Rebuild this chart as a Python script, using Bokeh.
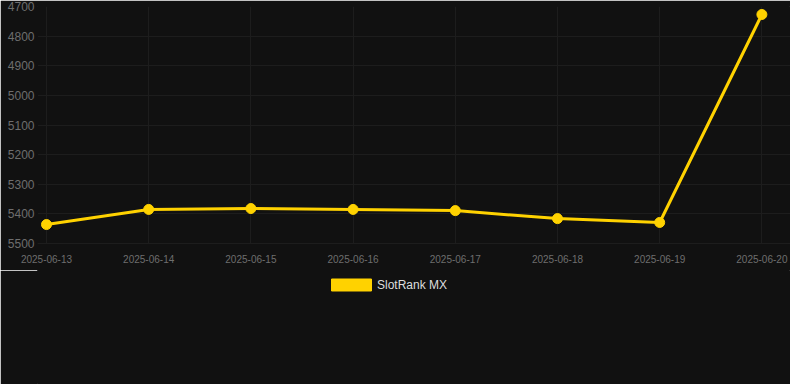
from bokeh.plotting import figure
from bokeh.layouts import column
from bokeh.models import Range1d, FixedTicker, Legend, LegendItem, ColumnDataSource
from bokeh.embed import file_html
from bokeh.resources import INLINE

dates = ["2025-06-13", "2025-06-14", "2025-06-15", "2025-06-16",
         "2025-06-17", "2025-06-18", "2025-06-19", "2025-06-20"]
ranks = [5436, 5385, 5382, 5385, 5389, 5416, 5429, 4727]
y_ticks = [4700, 4800, 4900, 5000, 5100, 5200, 5300, 5400, 5500]
series_name = "SlotRank MX"

LINE = "#FFD200"
BG = "#111111"
GRID = "#1d1d1d"
FONT = "Liberation Sans"
NAN = float("nan")

x = list(range(len(dates)))
src = ColumnDataSource(dict(x=x, y=ranks))

p = figure(width=790, height=270, output_backend="svg", toolbar_location=None,
           x_range=Range1d(-0.088, 7.28), y_range=Range1d(5500, 4700),
           background_fill_color=BG, border_fill_color=BG,
           min_border_left=37, min_border_right=0, min_border_top=6, min_border_bottom=27)
p.outline_line_color = BG
p.outline_line_alpha = 1

p.line("x", "y", source=src, line_color=LINE, line_width=3)
p.scatter("x", "y", source=src, size=10, fill_color=LINE, line_color=LINE)

p.axis.major_tick_line_color = None
p.axis.minor_tick_line_color = None
p.axis.major_label_text_color = "#6e6e6e"
p.axis.major_label_text_font = FONT

p.yaxis.axis_line_color = BG
p.xaxis.axis_line_color = GRID

p.xaxis.ticker = FixedTicker(ticks=x)
p.xaxis.major_label_overrides = {i: d for i, d in zip(x, dates)}
p.xaxis.major_label_text_font_size = "10px"
p.xaxis.major_label_standoff = 5

p.yaxis.ticker = FixedTicker(ticks=y_ticks)
p.yaxis.major_label_text_font_size = "12px"
p.yaxis.major_label_standoff = -3

p.xgrid.grid_line_color = GRID
p.ygrid.grid_line_color = GRID

# legend strip below the chart
lg = figure(width=790, height=114, output_backend="svg", toolbar_location=None,
            x_range=Range1d(0, 1), y_range=Range1d(0, 1),
            x_axis_type=None, y_axis_type=None,
            background_fill_color=BG, border_fill_color=BG,
            min_border_left=37, min_border_right=0, min_border_top=0, min_border_bottom=0)
lg.outline_line_color = BG
lg.outline_line_alpha = 1
lg.grid.visible = False
box = lg.quad(left=[NAN], right=[NAN], top=[NAN], bottom=[NAN],
              fill_color=LINE, line_color=LINE)

legend = Legend(items=[LegendItem(label=series_name, renderers=[box])],
                location=(289, 92), orientation="horizontal",
                glyph_width=50, glyph_height=15, label_standoff=1,
                label_text_font=FONT, label_text_font_size="12px",
                label_text_color="#dddddd",
                background_fill_alpha=0, border_line_color=None,
                padding=0, margin=0)
lg.add_layout(legend)

layout = column(p, lg, spacing=0)
open("out.html", "w").write(file_html(layout, INLINE))
